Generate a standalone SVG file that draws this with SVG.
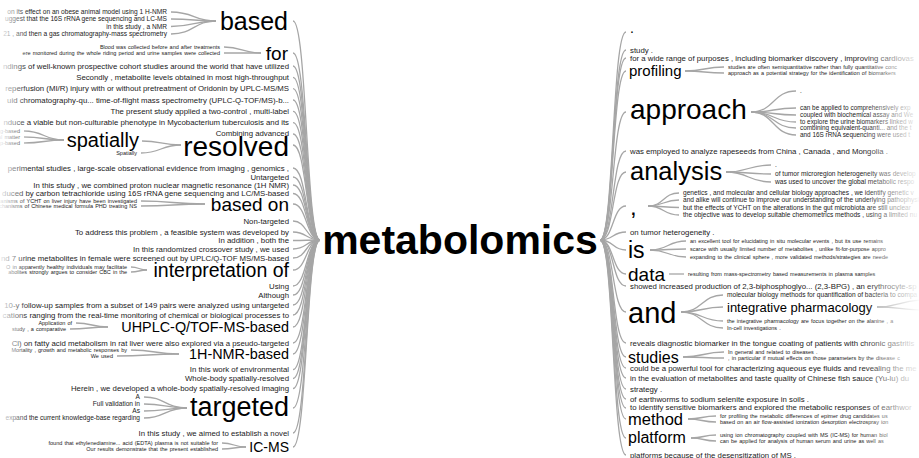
<svg xmlns="http://www.w3.org/2000/svg" width="919" height="458" viewBox="0 0 919 458">
<defs>
<style>
text{font-family:"Liberation Sans",Arial,Helvetica,sans-serif;fill:#1a1a1a}
.e{text-anchor:end}
.r{font-size:7.8px}
.k{font-size:6.6px}
.n{font-size:5.5px;word-spacing:0.6px}
.c path{fill:none;stroke:#a6a6a6;stroke-width:1.3}
</style>
<linearGradient id="fr" x1="0" x2="1" y1="0" y2="0"><stop offset="0" stop-color="#fff" stop-opacity="0"/><stop offset="1" stop-color="#fff" stop-opacity="0.95"/></linearGradient>
<linearGradient id="fl" x1="0" x2="1" y1="0" y2="0"><stop offset="0" stop-color="#fff" stop-opacity="0.9"/><stop offset="1" stop-color="#fff" stop-opacity="0"/></linearGradient>
</defs>
<rect width="919" height="458" fill="#fff"/>

<g id="connectors" class="c">
<path d="M293,21 C307,21 306,240 320,240"/>
<path d="M293,53 C307,53 306,240 320,240"/>
<path d="M293,66 C307,66 306,240 320,240"/>
<path d="M293,77.3 C307,77.3 306,240 320,240"/>
<path d="M293,88.7 C307,88.7 306,240 320,240"/>
<path d="M293,100 C307,100 306,240 320,240"/>
<path d="M293,111.3 C307,111.3 306,240 320,240"/>
<path d="M293,122.7 C307,122.7 306,240 320,240"/>
<path d="M293,134 C307,134 306,240 320,240"/>
<path d="M293,145 C307,145 306,240 320,240"/>
<path d="M293,168 C307,168 306,240 320,240"/>
<path d="M293,177 C307,177 306,240 320,240"/>
<path d="M293,185 C307,185 306,240 320,240"/>
<path d="M293,193.5 C307,193.5 306,240 320,240"/>
<path d="M293,204 C307,204 306,240 320,240"/>
<path d="M293,221 C307,221 306,240 320,240"/>
<path d="M293,232 C307,232 306,240 320,240"/>
<path d="M293,240.5 C307,240.5 306,240 320,240"/>
<path d="M293,249 C307,249 306,240 320,240"/>
<path d="M293,258 C307,258 306,240 320,240"/>
<path d="M293,270 C307,270 306,240 320,240"/>
<path d="M293,286 C307,286 306,240 320,240"/>
<path d="M293,295 C307,295 306,240 320,240"/>
<path d="M293,305 C307,305 306,240 320,240"/>
<path d="M293,315 C307,315 306,240 320,240"/>
<path d="M293,327 C307,327 306,240 320,240"/>
<path d="M293,343 C307,343 306,240 320,240"/>
<path d="M293,354 C307,354 306,240 320,240"/>
<path d="M293,369.5 C307,369.5 306,240 320,240"/>
<path d="M293,378.5 C307,378.5 306,240 320,240"/>
<path d="M293,388.5 C307,388.5 306,240 320,240"/>
<path d="M293,408 C307,408 306,240 320,240"/>
<path d="M293,433 C307,433 306,240 320,240"/>
<path d="M293,447 C307,447 306,240 320,240"/>
<path d="M600,240 C614,240 612,32 626,32"/>
<path d="M600,240 C614,240 612,50 626,50"/>
<path d="M600,240 C614,240 612,58 626,58"/>
<path d="M600,240 C614,240 612,71 626,71"/>
<path d="M600,240 C614,240 612,112 626,112"/>
<path d="M600,240 C614,240 612,151 626,151"/>
<path d="M600,240 C614,240 612,172 626,172"/>
<path d="M600,240 C614,240 612,206 626,206"/>
<path d="M600,240 C614,240 612,232 626,232"/>
<path d="M600,240 C614,240 612,250 626,250"/>
<path d="M600,240 C614,240 612,274 626,274"/>
<path d="M600,240 C614,240 612,286 626,286"/>
<path d="M600,240 C614,240 612,312 626,312"/>
<path d="M600,240 C614,240 612,343 626,343"/>
<path d="M600,240 C614,240 612,357 626,357"/>
<path d="M600,240 C614,240 612,368 626,368"/>
<path d="M600,240 C614,240 612,378 626,378"/>
<path d="M600,240 C614,240 612,389 626,389"/>
<path d="M600,240 C614,240 612,399 626,399"/>
<path d="M600,240 C614,240 612,408 626,408"/>
<path d="M600,240 C614,240 612,419 626,419"/>
<path d="M600,240 C614,240 612,438 626,438"/>
<path d="M600,240 C614,240 612,455 626,455"/>
<path d="M171,12 C194,12 194,21 216,21"/>
<path d="M171,19 C194,19 194,21 216,21"/>
<path d="M171,26.5 C194,26.5 194,21 216,21"/>
<path d="M171,34 C194,34 194,21 216,21"/>
<path d="M224,47 C242,47 242,53 261,53"/>
<path d="M224,53 C242,53 242,53 261,53"/>
<path d="M24,131 C44,131 44,140 64,140"/>
<path d="M24,137 C44,137 44,140 64,140"/>
<path d="M24,143 C44,143 44,140 64,140"/>
<path d="M142,141 C161,141 161,145 181,145"/>
<path d="M141,153 C161,153 161,145 181,145"/>
<path d="M141,201 C173,201 173,204 205,204"/>
<path d="M141,206 C173,206 173,204 205,204"/>
<path d="M131,267 C139,267 139,270 147,270"/>
<path d="M131,272 C139,272 139,270 147,270"/>
<path d="M76,323 C92,323 92,327 108,327"/>
<path d="M70,329 C89,329 89,327 108,327"/>
<path d="M131,350 C155,350 155,354 179,354"/>
<path d="M117,356 C148,356 148,354 179,354"/>
<path d="M144,397 C165,397 165,408 187,408"/>
<path d="M144,404 C165,404 165,408 187,408"/>
<path d="M144,411 C165,411 165,408 187,408"/>
<path d="M144,418 C165,418 165,408 187,408"/>
<path d="M222,443 C234,443 234,447 246,447"/>
<path d="M222,449 C234,449 234,447 246,447"/>
<path d="M685,71 C705,71 704,67 724,67"/>
<path d="M685,71 C705,71 704,73 724,73"/>
<path d="M751,112 C774,112 773,91 796,91"/>
<path d="M751,112 C774,112 773,108 796,108"/>
<path d="M751,112 C774,112 773,115 796,115"/>
<path d="M751,112 C774,112 773,122 796,122"/>
<path d="M751,112 C774,112 773,128 796,128"/>
<path d="M751,112 C774,112 773,135 796,135"/>
<path d="M726,172 C749,172 748,165 771,165"/>
<path d="M726,172 C749,172 748,174 771,174"/>
<path d="M726,172 C749,172 748,182 771,182"/>
<path d="M648,206 C664,206 663,193 679,193"/>
<path d="M648,206 C664,206 663,200 679,200"/>
<path d="M648,206 C664,206 663,207.5 679,207.5"/>
<path d="M648,206 C664,206 663,215 679,215"/>
<path d="M650,250 C668,250 668,241 686,241"/>
<path d="M650,250 C668,250 668,249 686,249"/>
<path d="M650,250 C668,250 668,257 686,257"/>
<path d="M669,274 C677,274 676,274 684,274"/>
<path d="M681,312 C702,312 702,295 723,295"/>
<path d="M681,312 C702,312 702,307 723,307"/>
<path d="M681,312 C702,312 702,321 723,321"/>
<path d="M681,312 C702,312 702,328 723,328"/>
<path d="M877,307 C900,307 900,300 925,300"/>
<path d="M877,307 C900,307 900,310 925,310"/>
<path d="M683,357 C704,357 703,352 724,352"/>
<path d="M683,357 C704,357 703,358 724,358"/>
<path d="M688,419 C702,419 702,416 716,416"/>
<path d="M688,419 C702,419 702,422 716,422"/>
<path d="M691,438 C704,438 703,435 716,435"/>
<path d="M691,438 C704,438 703,441 716,441"/>
</g>

<g id="root"><text x="460" y="254" text-anchor="middle" font-size="41" font-weight="bold" style="fill:#000">metabolomics</text></g>

<g id="n-based">
<text class="e" x="288" y="30" font-size="25" style="fill:#000">based</text>
<text class="e k" x="167" y="14.2">on its effect on an obese animal model using 1 H-NMR</text>
<text class="e k" x="167" y="21.2">uggest that the 16S rRNA gene sequencing and LC-MS</text>
<text class="e k" x="167" y="28.7">in this study , a NMR</text>
<text class="e k" x="167" y="36.2">21 , and then a gas chromatography-mass spectrometry</text>
</g>
<g id="n-for">
<text class="e" x="288" y="59.5" font-size="19" style="fill:#000">for</text>
<text class="e n" x="220" y="48.8">Blood was collected before and after treatments</text>
<text class="e n" x="220" y="54.8">ere monitored during the whole riding period and urine samples were collected</text>
</g>
<g id="l-lines1">
<text class="e r" x="289" y="68.6">ndings of well-known prospective cohort studies around the world that have utilized</text>
<text class="e r" x="289" y="79.9">Secondly , metabolite levels obtained in most high-throughput</text>
<text class="e r" x="289" y="91.3">reperfusion (MI/R) injury with or without pretreatment of Oridonin by UPLC-MS/MS</text>
<text class="e r" x="289" y="102.6">uid chromatography-qu... time-of-flight mass spectrometry (UPLC-Q-TOF/MS)-b...</text>
<text class="e r" x="289" y="113.9">The present study applied a two-control , multi-label</text>
<text class="e r" x="289" y="125.3">nduce a viable but non-culturable phenotype in Mycobacterium tuberculosis and its</text>
<text class="e r" x="289" y="135.8">Combining advanced</text>
</g>
<g id="n-resolved">
<text class="e" x="289" y="156" font-size="28" style="fill:#000">resolved</text>
<text class="e n" x="137" y="154.8">Spatially</text>
</g>
<g id="n-spatially">
<text class="e" x="139" y="147" font-size="20" style="fill:#000">spatially</text>
<text class="e n" x="20" y="132.8">g-based</text>
<text class="e n" x="20" y="138.8">al matter</text>
<text class="e n" x="20" y="144.8">p-based</text>
</g>
<g id="l-lines2">
<text class="e r" x="289" y="170.6">perimental studies , large-scale observational evidence from imaging , genomics ,</text>
<text class="e r" x="289" y="179.6">Untargeted</text>
<text class="e r" x="289" y="187.6">In this study , we combined proton nuclear magnetic resonance (1H NMR)</text>
<text class="e r" x="289" y="196.1">duced by carbon tetrachloride using 16S rRNA gene sequencing and LC/MS-based</text>
</g>
<g id="n-based-on">
<text class="e" x="289" y="211" font-size="19" style="fill:#000">based on</text>
<text class="e n" x="137" y="202.8">e mechanisms of YCHT on liver injury have been investigated</text>
<text class="e n" x="137" y="207.8">he mechanisms of Chinese medical formula PHD treating NS</text>
</g>
<g id="l-lines3">
<text class="e r" x="289" y="223.6">Non-targeted</text>
<text class="e r" x="289" y="234.6">To address this problem , a feasible system was developed by</text>
<text class="e r" x="289" y="243.1">In addition , both the</text>
<text class="e r" x="289" y="251.6">In this randomized crossover study , we used</text>
<text class="e r" x="289" y="260.6">nd 7 urine metabolites in female were screened out by UPLC/Q-TOF MS/MS-based</text>
</g>
<g id="n-interpretation">
<text class="e" x="289" y="277" font-size="19.5" style="fill:#000">interpretation of</text>
<text class="e n" x="127" y="268.8">O in apparently healthy individuals may facilitate</text>
<text class="e n" x="127" y="273.8">abolites strongly argues to consider CBC in the</text>
</g>
<g id="l-lines4">
<text class="e r" x="289" y="288.6">Using</text>
<text class="e r" x="289" y="297.6">Although</text>
<text class="e r" x="289" y="307.6">10-y follow-up samples from a subset of 149 pairs were analyzed using untargeted</text>
<text class="e r" x="289" y="317.6">cations ranging from the real-time monitoring of chemical or biological processes to</text>
</g>
<g id="n-uhplc">
<text class="e" x="289" y="332.2" font-size="14.4" style="fill:#000">UHPLC-Q/TOF-MS-based</text>
<text class="e n" x="72" y="324.8">Application of</text>
<text class="e n" x="66" y="330.8">study , a comparative</text>
</g>
<g id="l-lines5">
<text class="e r" x="289" y="345.6">Cl) on fatty acid metabolism in rat liver were also explored via a pseudo-targeted</text>
</g>
<g id="n-1hnmr">
<text class="e" x="289" y="359.2" font-size="14.4" style="fill:#000">1H-NMR-based</text>
<text class="e n" x="127" y="351.8">Mortality , growth and metabolic responses by</text>
<text class="e n" x="113" y="357.8">We used</text>
</g>
<g id="l-lines6">
<text class="e r" x="289" y="372.1">In this work of environmental</text>
<text class="e r" x="289" y="381.1">Whole-body spatially-resolved</text>
<text class="e r" x="289" y="391.1">Herein , we developed a whole-body spatially-resolved imaging</text>
</g>
<g id="n-targeted">
<text class="e" x="289" y="416" font-size="27" style="fill:#000">targeted</text>
<text class="e k" x="140" y="399.2">A</text>
<text class="e k" x="140" y="406.2">Full validation in</text>
<text class="e k" x="140" y="413.2">As</text>
<text class="e k" x="140" y="420.2">expand the current knowledge-base regarding</text>
</g>
<g id="l-lines7">
<text class="e r" x="289" y="435.6">In this study , we aimed to establish a novel</text>
</g>
<g id="n-icms">
<text class="e" x="289" y="452" font-size="14" style="fill:#000">IC-MS</text>
<text class="e n" x="218" y="444.8">found that ethylenediamine... acid (EDTA) plasma is not suitable for</text>
<text class="e n" x="218" y="450.8">Our results demonstrate that the present established</text>
</g>

<g id="n-dot"><text x="630" y="33" font-size="14" style="fill:#000">.</text></g>
<g id="r-lines1">
<text class="r" x="630" y="52.6">study .</text>
<text class="r" x="630" y="60.6">for a wide range of purposes , including biomarker discovery , improving cardiovas</text>
</g>
<g id="n-profiling">
<text x="629" y="76" font-size="15" style="fill:#000">profiling</text>
<text class="n" x="728" y="68.8">studies are often semiquantitative rather than fully quantitative conc</text>
<text class="n" x="728" y="74.8">approach as a potential strategy for the identification of biomarkers</text>
</g>
<g id="n-approach">
<text x="630" y="118.5" font-size="28" style="fill:#000">approach</text>
<text x="800" y="92.5" style="font-size:6.4px">.</text>
<text x="800" y="110.2" style="font-size:6.4px">can be applied to comprehensively exp</text>
<text x="800" y="117.2" style="font-size:6.4px">coupled with biochemical assay and We</text>
<text x="800" y="124.2" style="font-size:6.4px">to explore the urine biomarkers linked w</text>
<text x="800" y="130.2" style="font-size:6.4px">combining equivalent-quanti... and the t</text>
<text x="800" y="137.2" style="font-size:6.4px">and 16S rRNA sequencing were used t</text>
</g>
<g id="r-lines2"><text class="r" x="630" y="153.6">was employed to analyze rapeseeds from China , Canada , and Mongolia .</text></g>
<g id="n-analysis">
<text x="630" y="180" font-size="25.5" style="fill:#000">analysis</text>
<text class="k" x="775" y="166.5">.</text>
<text class="k" x="775" y="176.2">of tumor microregion heterogeneity was develop</text>
<text class="k" x="775" y="184.2">was used to uncover the global metabolic respo</text>
</g>
<g id="n-comma">
<text x="630" y="215" font-size="24" style="fill:#000">,</text>
<text class="k" x="683" y="195.2">genetics , and molecular and cellular biology approaches , we identify genetic v</text>
<text class="k" x="683" y="202.2">and alike will continue to improve our understanding of the underlying pathophysi</text>
<text class="k" x="683" y="209.7">but the effects of YCHT on the alterations in the gut microbiota are still unclear</text>
<text class="k" x="683" y="217.2">the objective was to develop suitable chemometrics methods , using a limited nu</text>
</g>
<g id="r-lines3"><text class="r" x="630" y="234.6">on tumor heterogeneity .</text></g>
<g id="n-is">
<text x="628" y="258.3" font-size="23" style="fill:#000">is</text>
<text class="n" x="690" y="242.8">an excellent tool for elucidating in situ molecular events , but its use remains</text>
<text class="n" x="690" y="250.8">scarce with usually limited number of metabolites , unlike fit-for-purpose appro</text>
<text class="n" x="690" y="258.8">expanding to the clinical sphere , more validated methods/strategies are neede</text>
</g>
<g id="n-data">
<text x="628" y="281" font-size="19" style="fill:#000">data</text>
<text class="n" x="688" y="275.8">resulting from mass-spectrometry based measurements in plasma samples</text>
</g>
<g id="r-lines4"><text class="r" x="630" y="288.6">showed increased production of 2,3-biphosphoglyo... (2,3-BPG) , an erythrocyte-sp</text></g>
<g id="n-and">
<text x="628" y="322.5" font-size="29" style="fill:#000">and</text>
<text class="k" x="727" y="297.1">molecular biology methods for quantification of bacteria to compa</text>
<text class="n" x="727" y="322.8">the integrative pharmacology are focus together on the alanine , a</text>
<text class="n" x="727" y="329.8">In-cell investigations .</text>
</g>
<g id="n-integrative"><text x="727" y="311.5" font-size="13" style="fill:#000">integrative pharmacology</text></g>
<g id="r-lines5"><text class="r" x="630" y="345.6">reveals diagnostic biomarker in the tongue coating of patients with chronic gastritis</text></g>
<g id="n-studies">
<text x="628" y="363" font-size="16" style="fill:#000">studies</text>
<text class="n" x="728" y="353.8">In general and related to diseases .</text>
<text class="n" x="728" y="359.8">, in particular if mutual effects on those parameters by the disease c</text>
</g>
<g id="r-lines6">
<text class="r" x="630" y="370.6">could be a powerful tool for characterizing aqueous eye fluids and revealing the me</text>
<text class="r" x="630" y="380.6">in the evaluation of metabolites and taste quality of Chinese fish sauce (Yu-lu) du</text>
<text class="r" x="630" y="391.6">strategy .</text>
<text class="r" x="630" y="401.6">of earthworms to sodium selenite exposure in soils .</text>
<text class="r" x="630" y="410.3">to identify sensitive biomarkers and explored the metabolic responses of earthwor</text>
</g>
<g id="n-method">
<text x="628" y="425" font-size="16.5" style="fill:#000">method</text>
<text class="n" x="720" y="417.8">for profiling the metabolic differences of epimer drug candidates us</text>
<text class="n" x="720" y="423.8">based on an air flow-assisted ionization desorption electrospray ion</text>
</g>
<g id="n-platform">
<text x="628" y="443" font-size="16" style="fill:#000">platform</text>
<text class="n" x="720" y="436.8">using ion chromatography coupled with MS (IC-MS) for human biol</text>
<text class="n" x="720" y="442.8">can be applied for analysis of human serum and urine as well as</text>
</g>
<g id="r-lines7"><text class="r" x="630" y="457.6">platforms because of the desensitization of MS .</text></g>

<rect x="862" y="0" width="57" height="458" fill="url(#fr)"/>
<rect x="0" y="0" width="30" height="458" fill="url(#fl)"/>
</svg>
